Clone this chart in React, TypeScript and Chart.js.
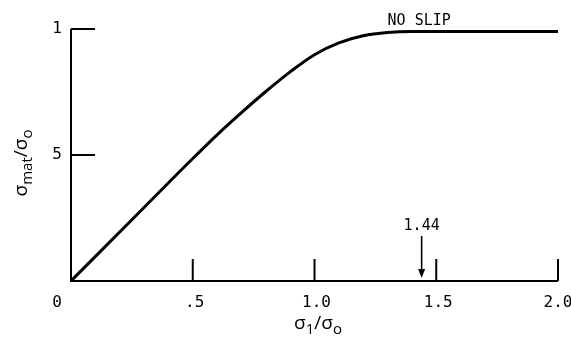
import { useEffect, useRef } from "react";
import { Chart, registerables } from "chart.js";

Chart.register(...registerables);

// Curve: sigma_1/sigma_0 (x) vs sigma_mat/sigma_0 (y)
const ratioX = [0, 0.25, 0.5, 0.6, 0.7, 0.8, 0.9, 1.0, 1.1, 1.2, 1.3, 1.4, 1.6, 1.8, 2.0];
const stressY = [0, 0.243, 0.486, 0.58, 0.668, 0.752, 0.83, 0.898, 0.945, 0.973, 0.986, 0.99, 0.99, 0.99, 0.99];

const xTickValues = [0, 0.5, 1.0, 1.5, 2.0];
const xTickLabels = ["0", ".5", "1.0", "1.5", "2.0"];
const yTickValues = [0.5, 1];
const yTickLabels = ["5", "1"];

const noSlipLabel = "NO SLIP";
const noSlipX = 1.3;
const markerValue = 1.44;
const markerLabel = "1.44";

const MONO = '"DejaVu Sans Mono", monospace';
const SANS = '"Open Sans", "DejaVu Sans", sans-serif';

type Part = { t: string; sub: boolean };
const yTitle: Part[] = [
  { t: "σ", sub: false },
  { t: "mat", sub: true },
  { t: "/σ", sub: false },
  { t: "o", sub: true },
];
const xTitle: Part[] = [
  { t: "σ", sub: false },
  { t: "1", sub: true },
  { t: "/σ", sub: false },
  { t: "o", sub: true },
];

function drawParts(ctx: CanvasRenderingContext2D, parts: Part[], mainSize: number, subSize: number) {
  const fontFor = (p: Part) => `${p.sub ? subSize : mainSize}px ${SANS}`;
  let w = 0;
  for (const p of parts) {
    ctx.font = fontFor(p);
    w += ctx.measureText(p.t).width;
  }
  let x = -w / 2;
  ctx.textBaseline = "alphabetic";
  ctx.textAlign = "left";
  for (const p of parts) {
    ctx.font = fontFor(p);
    ctx.fillText(p.t, x, p.sub ? 5 : 0);
    x += ctx.measureText(p.t).width;
  }
}

const decorPlugin = {
  id: "decor",
  afterDraw(chart: any) {
    const ctx: CanvasRenderingContext2D = chart.ctx;
    const xs = chart.scales.x;
    const ys = chart.scales.y;
    const x0 = xs.getPixelForValue(0);
    const y0 = ys.getPixelForValue(0);
    ctx.save();
    ctx.strokeStyle = "#000";
    ctx.fillStyle = "#000";
    ctx.lineCap = "butt";

    // axis lines
    ctx.lineWidth = 2;
    ctx.beginPath();
    ctx.moveTo(x0, ys.getPixelForValue(1));
    ctx.lineTo(x0, y0);
    ctx.lineTo(xs.getPixelForValue(2), y0);
    ctx.stroke();

    // inward ticks
    ctx.lineWidth = 2;
    xTickValues.forEach((v) => {
      if (v === 0) return;
      const px = xs.getPixelForValue(v);
      ctx.beginPath();
      ctx.moveTo(px, y0);
      ctx.lineTo(px, y0 - 22);
      ctx.stroke();
    });
    yTickValues.forEach((v) => {
      const py = ys.getPixelForValue(v);
      ctx.beginPath();
      ctx.moveTo(x0, py);
      ctx.lineTo(x0 + 24, py);
      ctx.stroke();
    });

    // tick labels
    ctx.font = `16px ${MONO}`;
    ctx.textAlign = "center";
    ctx.textBaseline = "middle";
    xTickValues.forEach((v, i) => {
      let px = xs.getPixelForValue(v);
      if (v === 0) px -= 14;
      else if (v < 2) px += 2;
      ctx.fillText(xTickLabels[i], px, y0 + 22);
    });
    yTickValues.forEach((v, i) => {
      ctx.fillText(yTickLabels[i], x0 - 14, ys.getPixelForValue(v));
    });

    // NO SLIP
    ctx.font = `15px ${MONO}`;
    ctx.textAlign = "left";
    ctx.textBaseline = "alphabetic";
    ctx.fillText(noSlipLabel, xs.getPixelForValue(noSlipX), ys.getPixelForValue(1) - 4);

    // marker arrow
    const mx = xs.getPixelForValue(markerValue);
    ctx.lineWidth = 1.6;
    ctx.beginPath();
    ctx.moveTo(mx, y0 - 45);
    ctx.lineTo(mx, y0 - 8);
    ctx.stroke();
    ctx.beginPath();
    ctx.moveTo(mx - 3.5, y0 - 12);
    ctx.lineTo(mx + 3.5, y0 - 12);
    ctx.lineTo(mx, y0 - 3);
    ctx.closePath();
    ctx.fill();
    ctx.font = `15px ${MONO}`;
    ctx.textAlign = "center";
    ctx.textBaseline = "alphabetic";
    ctx.fillText(markerLabel, mx, y0 - 51);

    // axis titles
    ctx.save();
    ctx.translate(27, 163);
    ctx.rotate(-Math.PI / 2);
    drawParts(ctx, yTitle, 19, 15);
    ctx.restore();

    ctx.save();
    ctx.translate(318, 329);
    drawParts(ctx, xTitle, 19, 15);
    ctx.restore();

    ctx.restore();
  },
};

export default function App() {
  const ref = useRef<HTMLCanvasElement | null>(null);
  useEffect(() => {
    if (!ref.current) return;
    const chart = new Chart(ref.current, {
      type: "line",
      data: {
        datasets: [
          {
            data: ratioX.map((x, i) => ({ x, y: stressY[i] })),
            borderColor: "#000",
            borderWidth: 3,
            pointRadius: 0,
            cubicInterpolationMode: "monotone",
            fill: false,
          },
        ],
      },
      options: {
        animation: false,
        responsive: true,
        maintainAspectRatio: false,
        layout: { padding: { left: 71, right: 13, top: 29, bottom: 56 } },
        plugins: { legend: { display: false }, tooltip: { enabled: false } },
        scales: {
          x: { type: "linear", min: 0, max: 2, display: false },
          y: { type: "linear", min: 0, max: 1, display: false },
        },
      },
      plugins: [decorPlugin],
    } as any);
    return () => chart.destroy();
  }, []);
  return (
    <div style={{ position: "fixed", left: 0, top: 0, width: 571, height: 337, background: "#fff" }}>
      <canvas ref={ref} />
    </div>
  );
}
